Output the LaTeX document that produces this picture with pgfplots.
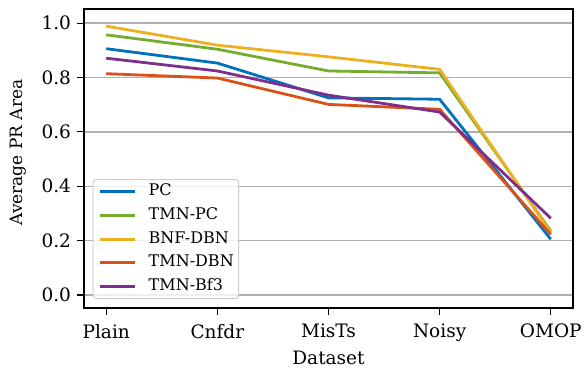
\documentclass[border=0pt]{standalone}
\usepackage{pgfplots}
\pgfplotsset{compat=1.18}
\usepackage{fontspec}
\setmainfont{DejaVu Serif}
\definecolor{cPC}{HTML}{0072BD}
\definecolor{cTPC}{HTML}{77AC30}
\definecolor{cBNF}{HTML}{EDB120}
\definecolor{cTDBN}{HTML}{D95319}
\definecolor{cBf}{HTML}{7E2F8E}
\begin{document}
\begin{tikzpicture}
\begin{axis}[
  scale only axis,
  width=489bp, height=299bp,
  xmin=-0.2, xmax=4.2,
  ymin=-0.048, ymax=1.052,
  xtick={0,1,2,3,4},
  xticklabels={Plain,Cnfdr,MisTs,Noisy,OMOP},
  ytick={0,0.2,0.4,0.6,0.8,1.0},
  yticklabel style={xshift=-3bp, /pgf/number format/.cd,fixed,fixed zerofill,precision=1},
  /pgf/number format/assume math mode=true,
  tick label style={font=\fontsize{18.5bp}{22bp}\selectfont},
  xticklabel style={yshift=-6bp},
  xlabel style={font=\fontsize{18.5bp}{22bp}\selectfont, inner sep=0pt, yshift=-6bp},
  ylabel style={font=\fontsize{17bp}{20bp}\selectfont, at={(ticklabel cs:0.52)}},
  ylabel shift=8bp,
  xlabel={Dataset},
  ylabel={Average PR Area},
  tick align=outside,
  major tick length=6.5bp,
  tick style={black, line width=1.1bp},
  xtick pos=bottom, ytick pos=left,
  axis line style={black, line width=1.2bp},
  ymajorgrids,
  grid style={color=black!31, line width=1.4bp},
  legend style={at={(axis cs:-0.2,-0.048)}, anchor=south west, xshift=8.7bp, yshift=9bp,
    font=\fontsize{16bp}{19bp}\selectfont, draw=black!20, line width=1bp, fill=white, fill opacity=0.8, text opacity=1,
    rounded corners=3bp, inner xsep=5bp, inner ysep=4bp, row sep=7.7bp,
    nodes={inner sep=0pt, text height=12bp, text depth=4bp},
    /tikz/every odd column/.style={column sep=12.7bp}},
  legend cell align=left,
  legend image code/.code={\draw[#1, line width=2.8bp] (0bp,0bp) -- (35bp,0bp);},
  every axis plot/.append style={line width=2.8bp, mark=none},
]
\addplot[cPC] coordinates {(0,0.906) (1,0.853) (2,0.725) (3,0.720) (4,0.205)};
\addplot[cTPC] coordinates {(0,0.957) (1,0.904) (2,0.824) (3,0.817) (4,0.235)};
\addplot[cBNF] coordinates {(0,0.989) (1,0.919) (2,0.876) (3,0.830) (4,0.229)};
\addplot[cTDBN] coordinates {(0,0.814) (1,0.798) (2,0.701) (3,0.683) (4,0.223)};
\addplot[cBf] coordinates {(0,0.871) (1,0.824) (2,0.735) (3,0.673) (4,0.282)};
\legend{PC,TMN-PC,BNF-DBN,TMN-DBN,TMN-Bf3}
\end{axis}
\pgfresetboundingbox
\path (current axis.south west) ++(-84bp,-60bp) rectangle ++(585bp,368bp);
\end{tikzpicture}
\end{document}
